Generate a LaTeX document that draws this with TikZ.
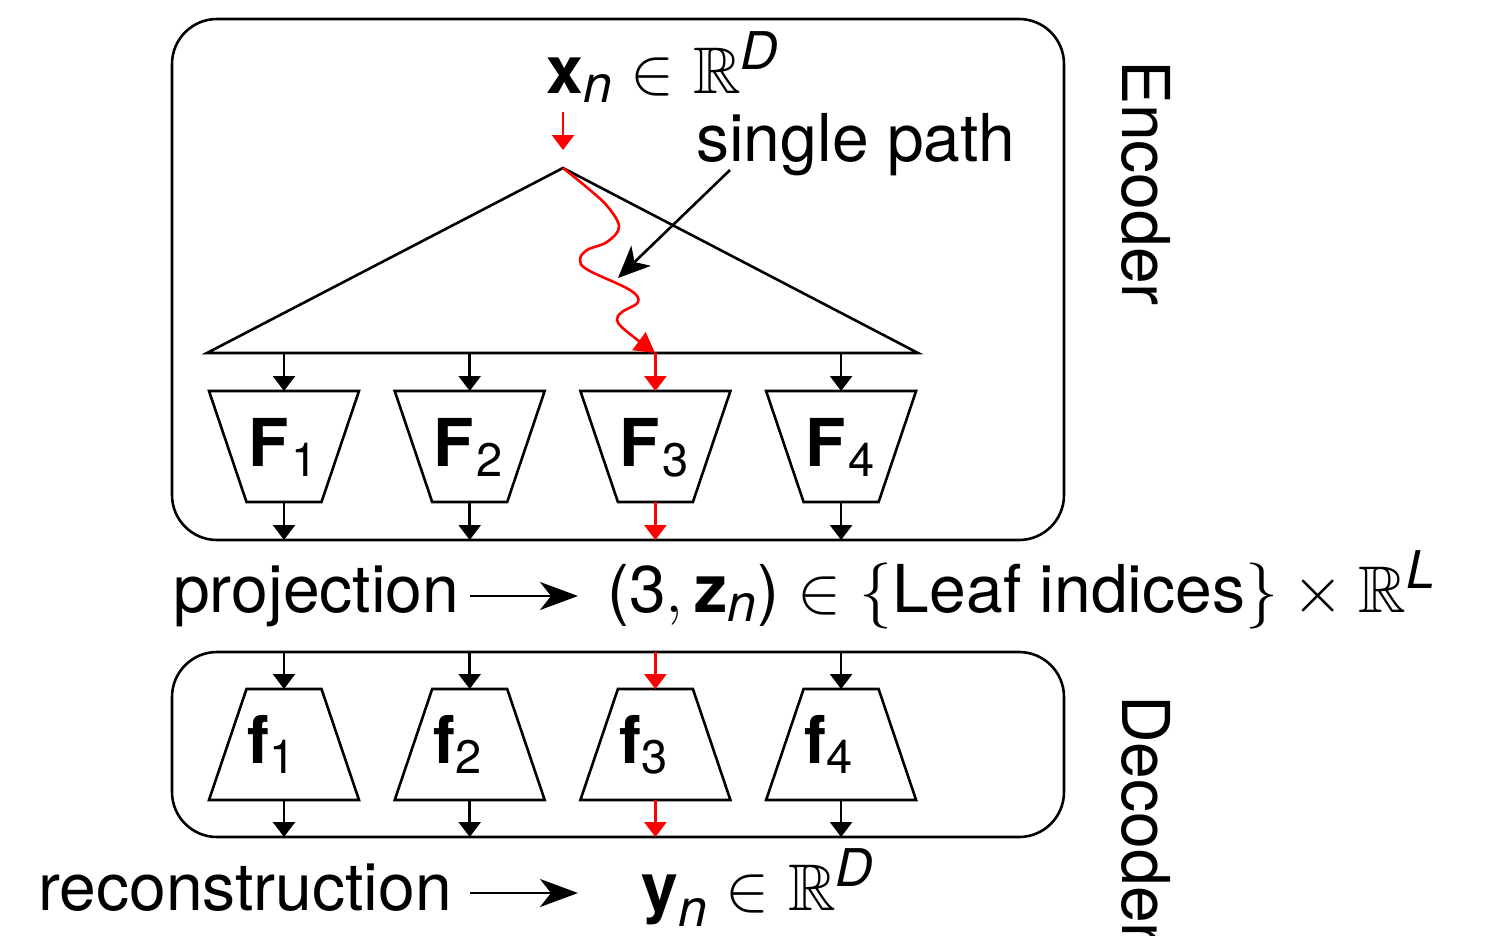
\RequirePackage{fix-cm}
\documentclass[tikz,border=0pt]{standalone}
\usepackage{amsmath,amssymb}
\usepackage{fontspec}
\setmainfont{TeX Gyre Heros}
\usetikzlibrary{arrows.meta}
\DeclareMathSizes{66}{66}{47}{40}
\newcommand\si[1]{\text{\fontsize{52}{60}\selectfont\itshape #1}}
\begin{document}
\begin{tikzpicture}[x=1pt,y=-1pt,line width=2.6pt,
  lbl/.style={font=\fontsize{66}{79}\selectfont, inner sep=0pt},
  box/.style={draw, rounded corners=45pt, inner sep=0pt},
  arr/.style={-{Triangle[length=15pt,width=22pt]}},
  redarr/.style={arr, red},
  bigarr/.style={line width=2.2pt, -{Stealth[length=38pt,width=28pt,inset=11pt]}},
  trap/.style={draw, line join=miter}]
\clip (0,0) rectangle (1492,935);
% boxes
\node[box, minimum width=892pt, minimum height=521pt] (enc) at (618,279.5) {};
\node[box, minimum width=892pt, minimum height=185pt] (dec) at (618,744.5) {};
% top label
\node[lbl, anchor=base west] (xn) at (545,93) {$\textbf{x}_{\si{n}} \in \mathbb{R}^{\si{D}}$};
\coordinate (xa) at (563,112);
\coordinate (xb) at (563,150);
\draw[redarr] (xa) -- (xb);
% triangle
\coordinate (apex) at (563,168);
\coordinate (bl) at (207,353);
\coordinate (br) at (918,353);
\draw (bl) -- (apex) -- (br) -- cycle;
% single path
\node[lbl, anchor=base west] (sp) at (695,161) {single path};
\coordinate (spa) at (730,170);
\coordinate (spb) at (618,278);
\draw[-{Stealth[length=32pt,width=28pt,inset=9pt]}] (spa) -- (spb);
% wavy red path
\draw[red, -{Triangle[length=20pt,width=22pt]}] plot[smooth, tension=0.6] coordinates {(563,168) (590,190) (608,207) (619,227) (607,242) (587,250) (580,260) (588,270) (630,290) (638,302) (622,312) (617,320) (625,330) (655,353)};
% encoder and decoder modules
\foreach \k/\x/\c in {1/284/black,2/469.7/black,3/655.4/red,4/841.1/black} {
  \draw[trap] (\x-75,391) -- (\x+75,391) -- (\x+37.5,502) -- (\x-37.5,502) -- cycle;
  \node[lbl, anchor=base] (F\k) at (\x-1,466) {$\textbf{F}_{\mkern1mu\text{\k}}$};
  \coordinate (b\k) at (\x,353);
  \coordinate (Ft\k) at (\x,391);
  \coordinate (Fb\k) at (\x,502);
  \coordinate (e\k) at (\x,540);
  \draw[arr, \c] (b\k) -- (Ft\k);
  \draw[arr, \c] (Fb\k) -- (e\k);
  \draw[trap] (\x-37.5,689) -- (\x+37.5,689) -- (\x+75,800) -- (\x-75,800) -- cycle;
  \node[lbl, anchor=base] (f\k) at (\x-12,763) {$\textbf{f}_{\text{\k}}$};
  \coordinate (d\k) at (\x,652);
  \coordinate (ft\k) at (\x,689);
  \coordinate (fb\k) at (\x,800);
  \coordinate (g\k) at (\x,837);
  \draw[arr, \c] (d\k) -- (ft\k);
  \draw[arr, \c] (fb\k) -- (g\k);
}
% projection
\node[lbl, anchor=base west] (proj) at (172,612) {projection};
\node[lbl, anchor=base west] (form) at (606,612) {$\text{(3}, \textbf{z}_{\si{n}}\text{)} \in \{\text{Leaf indices}\} \times \mathbb{R}^{\si{L}}$};
\coordinate (pa) at (470,596);
\coordinate (pb) at (578,596);
\draw[bigarr] (pa) -- (pb);
% reconstruction
\node[lbl, anchor=base west] (rec) at (37,910) {reconstruction};
\node[lbl, anchor=base west] (yn) at (640,910) {$\textbf{y}_{\si{n}} \in \mathbb{R}^{\si{D}}$};
\coordinate (ra) at (470,893);
\coordinate (rb) at (578,893);
\draw[bigarr] (ra) -- (rb);
% side labels
\node[lbl, rotate=-90, anchor=base] (enclbl) at (1122,183) {Encoder};
\node[lbl, rotate=-90, anchor=base] (declbl) at (1122,820) {Decoder};
\end{tikzpicture}
\end{document}
